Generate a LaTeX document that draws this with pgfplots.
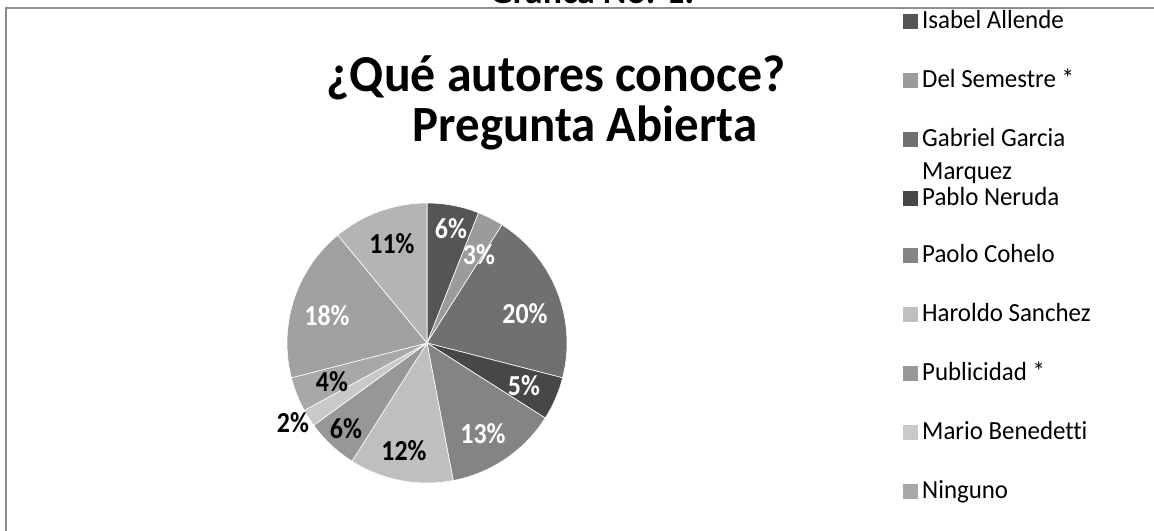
\documentclass[border=0pt]{standalone}
\usepackage{fontspec}
\setmainfont{Carlito}[Ligatures=NoCommon]
\usepackage{pgfplots}
\pgfplotsset{compat=1.18}
\definecolor{c1}{HTML}{555555}
\definecolor{c2}{HTML}{9B9B9B}
\definecolor{c3}{HTML}{707070}
\definecolor{c4}{HTML}{474747}
\definecolor{c5}{HTML}{848484}
\definecolor{c6}{HTML}{BFBFBF}
\definecolor{c7}{HTML}{979797}
\definecolor{c8}{HTML}{C9C9C9}
\definecolor{c9}{HTML}{A8A8A8}
\definecolor{c10}{HTML}{A0A0A0}
\definecolor{c11}{HTML}{B4B4B4}
\definecolor{framec}{HTML}{8C8C8C}
\begin{document}
\begin{tikzpicture}[x=1bp,y=1bp]
\useasboundingbox (0,0) rectangle (1154,531);
\fill[white] (0,0) rectangle (1154,531);
\draw[line width=2bp, framec] (5.7,-5) -- (5.7,523.3) -- (1160,523.3);
\node[anchor=base, font=\bfseries\fontsize{36}{40}\selectfont] at (592,527) {Grafica No. 1.};
\node[anchor=base, inner sep=0, yscale=1.04, font=\bfseries\fontsize{50}{50}\selectfont] at (556,439) {¿Qué autores conoce?};
\node[anchor=base, inner sep=0, yscale=1.04, font=\bfseries\fontsize{49}{50}\selectfont] at (585,389) {Pregunta Abierta};

\begin{axis}[at={(427,188)}, anchor=center, x=1bp, y=1bp, scale only axis,
  xmin=-150, xmax=150, ymin=-150, ymax=150, hide axis, clip=false,
  every axis plot/.append style={draw=white, line width=0.6bp, data cs=polar, samples=40}]
% percentages (clockwise from top): 6, 3, 20, 5, 13, 12, 6, 2, 4, 18, 11
\addplot[fill=c1, domain=90:68.4] ({x},{140}) -- (axis cs:0,0) -- cycle;
\addplot[fill=c2, domain=68.4:57.6] ({x},{140}) -- (axis cs:0,0) -- cycle;
\addplot[fill=c3, domain=57.6:-14.4] ({x},{140}) -- (axis cs:0,0) -- cycle;
\addplot[fill=c4, domain=-14.4:-32.4] ({x},{140}) -- (axis cs:0,0) -- cycle;
\addplot[fill=c5, domain=-32.4:-79.2] ({x},{140}) -- (axis cs:0,0) -- cycle;
\addplot[fill=c6, domain=-79.2:-122.4] ({x},{140}) -- (axis cs:0,0) -- cycle;
\addplot[fill=c7, domain=-122.4:-144] ({x},{140}) -- (axis cs:0,0) -- cycle;
\addplot[fill=c8, domain=-144:-151.2] ({x},{140}) -- (axis cs:0,0) -- cycle;
\addplot[fill=c9, domain=-151.2:-165.6] ({x},{140}) -- (axis cs:0,0) -- cycle;
\addplot[fill=c10, domain=-165.6:-230.4] ({x},{140}) -- (axis cs:0,0) -- cycle;
\addplot[fill=c11, domain=-230.4:-270] ({x},{140}) -- (axis cs:0,0) -- cycle;
\begin{scope}[font=\bfseries\fontsize{26}{26}\selectfont]
\node[text=white, yscale=1.12] at (axis cs:24,114) {6\%};
\node[text=white, yscale=1.12] at (axis cs:52,88) {3\%};
\node[text=white, yscale=1.12] at (axis cs:98,29) {20\%};
\node[text=white, yscale=1.12] at (axis cs:97,-43) {5\%};
\node[text=white, yscale=1.12] at (axis cs:56,-91) {13\%};
\node[text=black, yscale=1.12] at (axis cs:-23,-108) {12\%};
\node[text=black, yscale=1.12] at (axis cs:-81,-86) {6\%};
\node[text=black, yscale=1.12] at (axis cs:-134,-80) {2\%};
\node[text=black, yscale=1.12] at (axis cs:-95,-39) {4\%};
\node[text=white, yscale=1.12] at (axis cs:-100,27) {18\%};
\node[text=black, yscale=1.12] at (axis cs:-35,99) {11\%};
\end{scope}
\end{axis}

\begin{scope}[font=\fontsize{25}{32}\selectfont]
\foreach \b/\c/\t in {29/c1/Isabel Allende, 88/c2/Del Semestre *, 147/c3/Gabriel Garcia, 206/c4/Pablo Neruda, 263/c5/Paolo Cohelo, 322/c6/Haroldo Sanchez, 381/c7/Publicidad *, 440/c8/Mario Benedetti, 499/c9/Ninguno}{
  \fill[\c] (903,531-\b) rectangle (918,531-\b+15);
  \node[anchor=base west, inner sep=0, yscale=1.05] at (922,531-\b) {\t};
}
\node[anchor=base west, inner sep=0, yscale=1.05] at (922,531-180) {Marquez};
\end{scope}
\end{tikzpicture}
\end{document}
